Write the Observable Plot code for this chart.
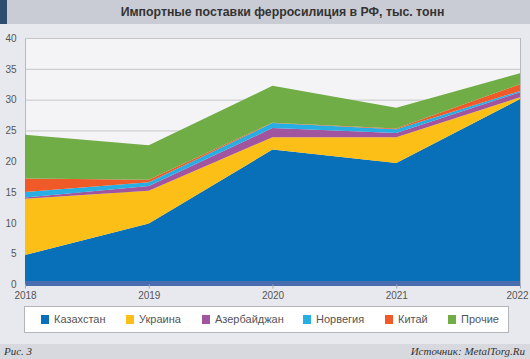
<!DOCTYPE html>
<html>
<head>
<meta charset="utf-8">
<script src="https://cdn.jsdelivr.net/npm/d3@7"></script>
<script src="https://cdn.jsdelivr.net/npm/@observablehq/plot@0.6"></script>
<style>
  html, body { margin: 0; padding: 0; }
  body { width: 530px; height: 359px; background: #e8e9ee; position: relative; overflow: hidden; font-family: "Liberation Sans", Arial, sans-serif; }
  #titlebar { position: absolute; left: 0; top: 0; width: 530px; height: 24px; background: #c9ccd4; }
  #accent { position: absolute; left: 0; top: 0; width: 7px; height: 24px; background: #2f4d6c; }
  #title { position: absolute; left: 7px; right: 0; top: 0; height: 24px; line-height: 24px; text-align: center; font-weight: bold; font-size: 12.3px; color: #333; padding-left: 28px; box-sizing: border-box; }
  #chart { position: absolute; left: 0; top: 24px; }
  #legend { position: absolute; left: 24px; top: 306px; width: 485px; height: 27px; background: #fff; border: 1px solid #b5b5b8; box-sizing: border-box; }
  .item { position: absolute; top: 0; height: 25px; line-height: 25px; font-size: 11px; color: #555; white-space: nowrap; }
  .sw { position: absolute; top: 8px; width: 8px; height: 9px; }
  .lbl { position: absolute; left: 13px; top: 0; }
  #footer { position: absolute; left: 0; top: 344px; width: 530px; height: 15px; background: #d7d9df; font-family: "Liberation Serif", "Times New Roman", serif; font-style: italic; font-size: 11px; color: #333; line-height: 15px; }
  #fig { position: absolute; left: 4px; }
  #src { position: absolute; right: 5px; }
</style>
</head>
<body>
<div id="titlebar"><div id="accent"></div><div id="title">Импортные поставки ферросилиция в РФ, тыс. тонн</div></div>
<div id="chart"></div>
<div id="legend"></div>
<div id="footer"><span id="fig">Рис. 3</span><span id="src">Источник: MetalTorg.Ru</span></div>
<script>
const years = [2018, 2019, 2020, 2021, 2022];
const countries = ["Казахстан", "Украина", "Азербайджан", "Норвегия", "Китай", "Прочие"];
const colors = ["#0870b8", "#fbbf17", "#a1559e", "#27aee3", "#ef5a28", "#71ad47"];
const kazakhstan = [4.8, 9.9, 21.9, 19.7, 30.1];
const ukraine    = [9.1, 5.3, 2.0, 4.2, 0.3];
const azerbaijan = [0.2, 0.8, 1.5, 0.7, 0.8];
const norway     = [0.9, 0.6, 0.8, 0.6, 0.2];
const china      = [2.2, 0.4, 0.05, 0.1, 1.1];
const others     = [7.1, 5.6, 6.0, 3.4, 1.8];
const yTicks = [0, 5, 10, 15, 20, 25, 30, 35, 40];
const legendX = [16, 101, 177, 278, 360, 423];

const series = [kazakhstan, ukraine, azerbaijan, norway, china, others];
const data = [];
countries.forEach((c, i) => years.forEach((yr, j) => data.push({country: c, year: yr, value: series[i][j]})));

const chart = Plot.plot({
  width: 530,
  height: 280,
  marginLeft: 25,
  marginRight: 10,
  marginTop: 14,
  marginBottom: 19.5,
  style: { fontFamily: "'Liberation Sans', Arial, sans-serif", fontSize: "10px", color: "#555", background: "transparent" },
  x: { domain: [2018, 2022], label: null, axis: null },
  y: { domain: [0, 40], label: null, axis: null },
  color: { domain: countries, range: colors },
  marks: [
    Plot.frame({ fill: "#f4f4f6", stroke: "#b9b9bd" }),
    Plot.gridY(yTicks, { stroke: "#c6c6ca", strokeOpacity: 1 }),
    Plot.areaY(data, { x: "year", y: "value", fill: "country", z: "country", order: countries }),
    Plot.ruleY([0], { stroke: "#4a6db0", strokeWidth: 5, dy: -1.5 }),
    Plot.axisX(years, { tickFormat: () => "", tickSize: 4, stroke: "#aaa" }),
    Plot.axisX(years.slice(0, 4), { tickFormat: "d", tickSize: 0, tickPadding: 7, fill: "#555" }),
    Plot.axisX(years.slice(4), { tickFormat: "d", tickSize: 0, tickPadding: 7, fill: "#555", dx: -3 }),
    Plot.axisY(yTicks, { tickSize: 0, tickPadding: 9, fill: "#555" })
  ]
});
document.getElementById("chart").appendChild(chart);

const legend = document.getElementById("legend");
countries.forEach((c, i) => {
  const it = document.createElement("div");
  it.className = "item";
  it.style.left = legendX[i] + "px";
  it.innerHTML = `<span class="sw" style="background:${colors[i]}"></span><span class="lbl">${c}</span>`;
  legend.appendChild(it);
});
</script>
</body>
</html>
